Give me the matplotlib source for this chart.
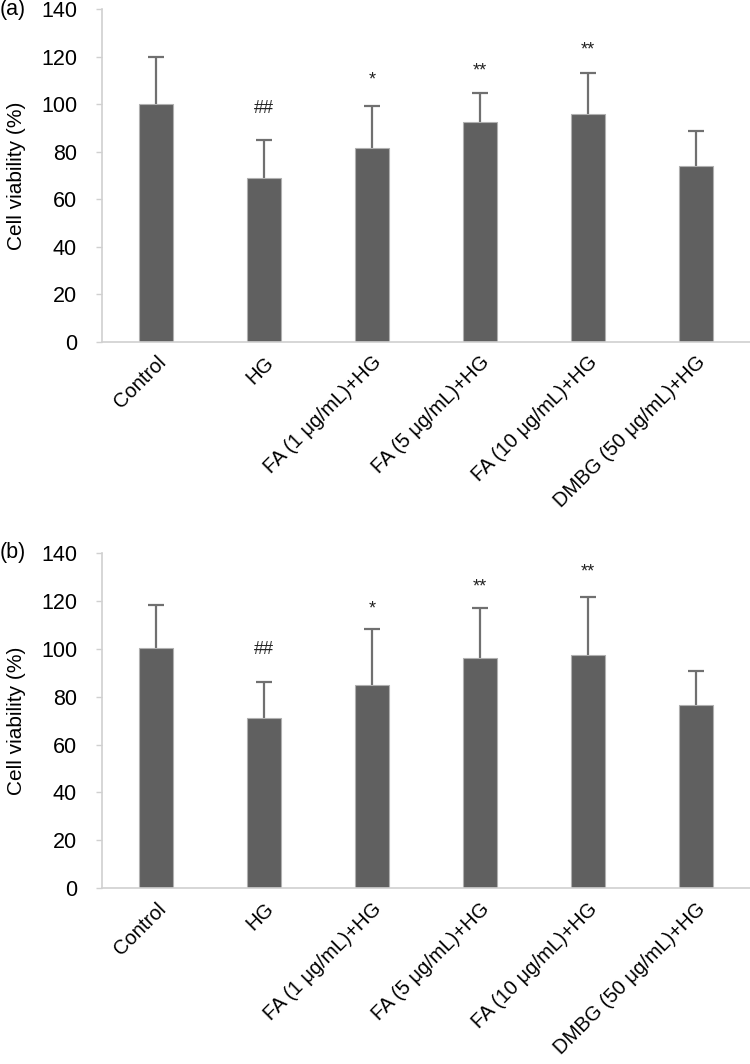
import numpy as np
import matplotlib
matplotlib.use("Agg")
import matplotlib.pyplot as plt

plt.rcParams['font.family'] = ['Liberation Sans', 'DejaVu Sans']

groups = ['Control', 'HG', 'FA (1 μg/mL)+HG', 'FA (5 μg/mL)+HG',
          'FA (10 μg/mL)+HG', 'DMBG (50 μg/mL)+HG']

# panel (a)
mean_a = [100.0, 68.7, 81.7, 92.3, 95.8, 74.0]
err_a = [19.8, 16.3, 17.5, 12.2, 17.5, 14.6]
marks_a = ['', '##', '*', '**', '**', '']
mark_y_a = [None, 98, 110, 114, 123, None]

# panel (b)
mean_b = [100.2, 70.9, 84.9, 96.1, 97.2, 76.3]
err_b = [17.9, 15.0, 23.3, 20.8, 24.3, 14.4]
marks_b = ['', '##', '*', '**', '**', '']
mark_y_b = [None, 99.7, 116.5, 125.6, 131.8, None]

bar_color = '#606060'
line_color = '#707070'
spine_color = '#d0d0d0'


def draw_panel(ax, means, errs, marks, mark_y, tag):
    x = np.arange(len(groups))
    ax.bar(x, means, width=0.31, color=bar_color, edgecolor='#b0b0b0',
           linewidth=0.8, zorder=2)
    _, caps, _ = ax.errorbar(x, means, yerr=[np.zeros(len(errs)), errs],
                             fmt='none', ecolor=line_color, elinewidth=1.6,
                             capsize=5.5, capthick=1.6, zorder=1)
    # only the upper cap is shown
    caps[0].set_visible(False)
    for xi, m, y in zip(x, marks, mark_y):
        if m:
            ax.text(xi, y, m, ha='center', va='center', fontsize=13,
                    color='#222222')
    ax.set_xlim(-0.5, len(groups) - 0.5)
    ax.set_ylim(0, 140)
    ax.set_yticks(np.arange(0, 141, 20))
    ax.set_xticks(x)
    ax.set_xticklabels(groups, rotation=45, ha='right',
                       rotation_mode='anchor', fontsize=14.5)
    ax.tick_params(axis='x', length=0, pad=8)
    ax.tick_params(axis='y', labelsize=15.5, length=4, width=1,
                   color=spine_color, pad=14)
    for s in ['top', 'right']:
        ax.spines[s].set_visible(False)
    ax.spines['left'].set_color(spine_color)
    ax.spines['bottom'].set_color(spine_color)
    ax.spines['left'].set_linewidth(1.2)
    ax.spines['bottom'].set_linewidth(1.2)
    ax.set_ylabel('Cell viability (%)', fontsize=15, labelpad=11)
    ax.text(-0.136 / 0.864, 1.0, tag, transform=ax.transAxes, fontsize=15.5,
            ha='left', va='center')


fig = plt.figure(figsize=(7.5, 10.64), dpi=100)
ax_a = fig.add_axes([0.136, 0.679, 0.864, 0.3124])
ax_b = fig.add_axes([0.136, 0.1651, 0.864, 0.3154])

draw_panel(ax_a, mean_a, err_a, marks_a, mark_y_a, '(a)')
draw_panel(ax_b, mean_b, err_b, marks_b, mark_y_b, '(b)')

fig.savefig('out.png', dpi=100)
